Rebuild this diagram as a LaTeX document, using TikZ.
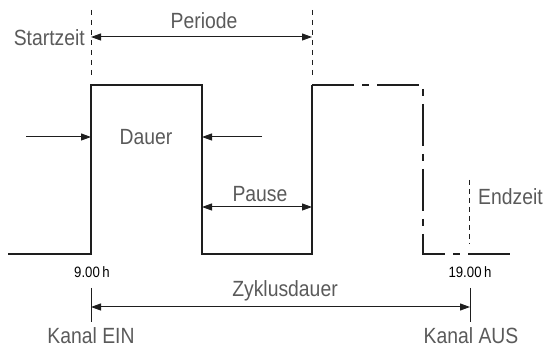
\documentclass[tikz,border=0pt]{standalone}
\usepackage{fontspec}
\setmainfont{Liberation Sans}[FakeStretch=0.88]
\usetikzlibrary{arrows.meta}
\definecolor{labelgray}{RGB}{90,90,90}
\definecolor{linedark}{RGB}{30,30,30}

\tikzset{
  signal/.style={line width=2pt,draw=linedark,line join=miter},
  dimline/.style={line width=1pt,draw=linedark},
  dimarrows/.style={dimline,{Triangle[length=10pt,width=7pt]}-{Triangle[length=10pt,width=7pt]}},
  dimarrow/.style={dimline,-{Triangle[length=10pt,width=7pt]}},
  marker/.style={line width=1pt,draw=linedark,dash pattern=on 5pt off 5pt},
  lbl/.style={text=labelgray,font=\fontsize{22}{24}\selectfont,inner sep=0pt},
  timelbl/.style={font=\fontsize{15}{17}\selectfont,inner sep=0pt},
}

\begin{document}
\begin{tikzpicture}[x=1pt,y=-1pt]
\useasboundingbox (0,0) rectangle (549,347);

% switching points
\coordinate (start) at (8,254);
\coordinate (on1) at (91,254);
\coordinate (on1top) at (91,85);
\coordinate (off1top) at (202,85);
\coordinate (off1) at (202,254);
\coordinate (on2) at (312,254);
\coordinate (on2top) at (312,85);
\coordinate (off2top) at (423,85);
\coordinate (off2) at (423,254);
\coordinate (stop) at (517,254);

% signal
\draw[signal] (start) -- (on1) -- (on1top) -- (off1top) -- (off1) -- (on2) -- (on2top);
\draw[signal,dash pattern=on 42pt off 8pt on 7pt off 8pt] (on2top) -- (off2top) -- (off2) -- (stop);

% period
\coordinate (perA) at (91,10);
\coordinate (perB) at (91,76);
\coordinate (perC) at (312,10);
\coordinate (perD) at (312,76);
\draw[marker] (perA) -- (perB);
\draw[marker] (perC) -- (perD);
\coordinate (perL) at (91,37);
\coordinate (perR) at (312,37);
\draw[dimarrows] (perL) -- (perR);
\node[lbl,anchor=east] (startzeit) at (85,38) {Startzeit};
\node[lbl] (periode) at (204,21) {Periode};

% duration
\coordinate (durL0) at (26,137);
\coordinate (durL1) at (91,137);
\coordinate (durR0) at (262,137);
\coordinate (durR1) at (202,137);
\draw[dimarrow] (durL0) -- (durL1);
\draw[dimarrow] (durR0) -- (durR1);
\node[lbl] (dauer) at (146,137) {Dauer};

% pause
\coordinate (pauL) at (202,207);
\coordinate (pauR) at (312,207);
\draw[dimarrows] (pauL) -- (pauR);
\node[lbl] (pause) at (260,194) {Pause};

% end time
\coordinate (endA) at (469,180);
\coordinate (endB) at (469,244);
\draw[marker,dash pattern=on 5pt off 4pt] (endA) -- (endB);
\node[lbl,anchor=west] (endzeit) at (478,197) {Endzeit};

% times
\node[timelbl] (t9) at (92,272) {9.00\,h};
\node[timelbl] (t19) at (470,272) {19.00\,h};

% cycle
\coordinate (cycA) at (91,288);
\coordinate (cycB) at (91,322);
\coordinate (cycC) at (470,288);
\coordinate (cycD) at (470,322);
\draw[dimline] (cycA) -- (cycB);
\draw[dimline] (cycC) -- (cycD);
\coordinate (cycL) at (91,307);
\coordinate (cycR) at (470,307);
\draw[dimarrows] (cycL) -- (cycR);
\node[lbl] (zyklus) at (285,291) {Zyklusdauer};
\node[lbl] (kanalein) at (91,336) {Kanal EIN};
\node[lbl] (kanalaus) at (471,336) {Kanal AUS};
\end{tikzpicture}
\end{document}
